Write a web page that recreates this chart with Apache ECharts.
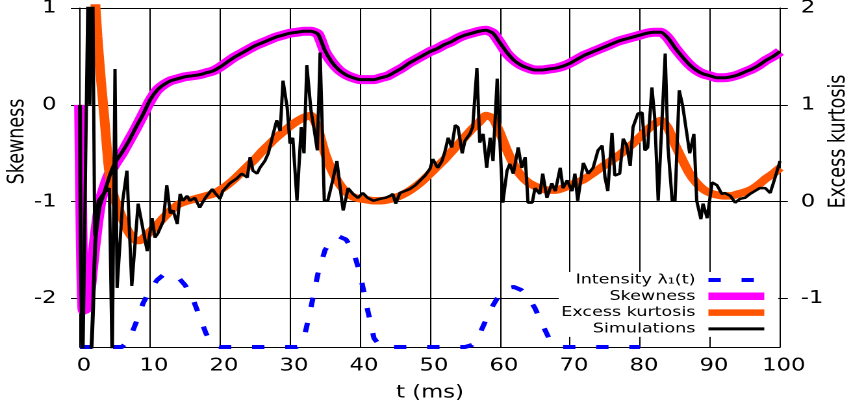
<!DOCTYPE html>
<html>
<head>
<meta charset="utf-8">
<title>Skewness and excess kurtosis</title>
<script src="https://cdn.jsdelivr.net/npm/echarts@6.0.0/dist/echarts.min.js"></script>
<style>
  html, body { margin: 0; padding: 0; background: #fff; overflow: hidden; }
  #frame { width: 851px; height: 408px; overflow: hidden; position: relative; }
  /* the plot is laid out narrower and widened horizontally */
  #chart { width: 655px; height: 408px; transform-origin: 0 0; transform: scaleX(1.299237); }
</style>
</head>
<body>
<div id="frame"><div id="chart"></div></div>
<script>
// ---- axis ticks ----
const xTicks = [0, 10, 20, 30, 40, 50, 60, 70, 80, 90, 100];
const skewTicks = [-2, -1, 0, 1];
const kurtTicks = [-1, 0, 1, 2];

// ---- theoretical skewness (left axis) ----
const skewT = [0, 0.5, 1, 1.5, 2, 2.5, 3,
  4, 5, 6, 7, 8, 9, 10, 11, 12, 13, 14, 15, 16, 17, 18, 19, 20,
  21, 22, 23, 24, 25, 26, 27, 28, 29, 30, 31, 32, 33, 34, 35, 36, 37, 38, 39, 40,
  41, 42, 43, 44, 45, 46, 47, 48, 49, 50, 51, 52, 53, 54, 55, 56, 57, 58, 59, 60,
  61, 62, 63, 64, 65, 66, 67, 68, 69, 70, 71, 72, 73, 74, 75, 76, 77, 78, 79, 80,
  81, 82, 83, 84, 85, 86, 87, 88, 89, 90, 91, 92, 93, 94, 95, 96, 97, 98, 99, 100];
const skewV = [0, -2.12, -2.1, -1.85, -1.5, -1.2, -0.97,
  -0.75, -0.61, -0.5, -0.37, -0.24, -0.1, 0.04, 0.15, 0.21, 0.25, 0.27, 0.29, 0.30, 0.31, 0.33, 0.35, 0.39,
  0.44, 0.49, 0.53, 0.57, 0.61, 0.64, 0.67, 0.70, 0.72, 0.74, 0.75, 0.76, 0.76, 0.73, 0.55, 0.44, 0.36, 0.31, 0.28, 0.26,
  0.26, 0.26, 0.28, 0.30, 0.34, 0.38, 0.43, 0.47, 0.51, 0.55, 0.58, 0.62, 0.65, 0.69, 0.72, 0.74, 0.76, 0.77, 0.74, 0.64,
  0.53, 0.46, 0.41, 0.38, 0.36, 0.36, 0.37, 0.38, 0.40, 0.43, 0.47, 0.51, 0.54, 0.57, 0.60, 0.63, 0.66, 0.68, 0.70, 0.72,
  0.74, 0.75, 0.75, 0.69, 0.59, 0.50, 0.42, 0.36, 0.32, 0.30, 0.28, 0.28, 0.29, 0.31, 0.34, 0.37, 0.41, 0.46, 0.50, 0.55];

// ---- theoretical excess kurtosis (right axis) ----
const kurtT = [1.5, 2, 2.5, 3, 3.5, 4, 4.5, 5, 5.5, 6, 6.5, 7, 7.5, 8, 8.5, 9,
  10, 11, 12, 13, 14, 15, 16, 17, 18, 19, 20,
  21, 22, 23, 24, 25, 26, 27, 28, 29, 30, 31, 32, 33, 34, 35, 36, 37, 38, 39, 40,
  41, 42, 43, 44, 45, 46, 47, 48, 49, 50, 51, 52, 53, 54, 55, 56, 57, 58, 59, 60,
  61, 62, 63, 64, 65, 66, 67, 68, 69, 70, 71, 72, 73, 74, 75, 76, 77, 78, 79, 80,
  81, 82, 83, 84, 85, 86, 87, 88, 89, 90, 91, 92, 93, 94, 95, 96, 97, 98, 99, 100];
const kurtV = [3.5, 2.3, 1.7, 1.25, 0.85, 0.42, 0.15, 0.02, -0.07, -0.16, -0.25, -0.32, -0.37, -0.40, -0.40, -0.38,
  -0.31, -0.24, -0.16, -0.09, -0.03, 0.0, 0.02, 0.04, 0.06, 0.08, 0.12,
  0.17, 0.23, 0.30, 0.37, 0.44, 0.52, 0.59, 0.66, 0.72, 0.78, 0.83, 0.87, 0.89, 0.75, 0.50, 0.32, 0.19, 0.10, 0.05, 0.03,
  0.02, 0.01, 0.01, 0.02, 0.04, 0.07, 0.11, 0.16, 0.22, 0.29, 0.36, 0.43, 0.51, 0.59, 0.67, 0.75, 0.82, 0.89, 0.86, 0.71,
  0.53, 0.38, 0.27, 0.20, 0.16, 0.13, 0.12, 0.12, 0.14, 0.17, 0.20, 0.23, 0.28, 0.33, 0.38, 0.43, 0.48, 0.54, 0.60, 0.67,
  0.74, 0.80, 0.84, 0.76, 0.59, 0.44, 0.30, 0.20, 0.13, 0.09, 0.07, 0.06, 0.06, 0.08, 0.10, 0.13, 0.18, 0.24, 0.29, 0.35];

// ---- intensity lambda_1(t), drawn against the left axis ----
const lambdaT = [0, 6, 7, 8, 9, 10, 11, 12, 13, 14, 15, 16, 17, 18, 19, 20,
  31, 32, 33, 34, 35, 36, 37, 38, 39, 40, 41, 42, 43,
  55, 56, 57, 58, 59, 60, 61, 62, 63, 64, 65, 66, 67, 68, 69, 80];
const lambdaV = [-2.5, -2.5, -2.43, -2.25, -2.05, -1.91, -1.81, -1.75, -1.74, -1.78, -1.86, -1.98, -2.17, -2.36, -2.49, -2.5,
  -2.5, -2.41, -2.09, -1.74, -1.50, -1.39, -1.36, -1.39, -1.50, -1.74, -2.09, -2.41, -2.5,
  -2.5, -2.48, -2.38, -2.22, -2.07, -1.95, -1.89, -1.88, -1.91, -1.98, -2.10, -2.26, -2.41, -2.49, -2.5, -2.5];

// ---- simulated skewness (left axis) ----
const simSkewT = [0, 0.4, 1.5, 2.2, 2.8, 3.5, 4.3, 5,
  6, 7, 8, 9, 10, 11, 12, 13, 14, 15, 16, 17, 18, 19, 20,
  21, 22, 23, 24, 25, 26, 27, 28, 29, 30, 31, 32, 33, 34, 35, 36, 37, 38, 39, 40,
  41, 42, 43, 44, 45, 46, 47, 48, 49, 50, 51, 52, 53, 54, 55, 56, 57, 58, 59, 60,
  61, 62, 63, 64, 65, 66, 67, 68, 69, 70, 71, 72, 73, 74, 75, 76, 77, 78, 79, 80,
  81, 82, 83, 84, 85, 86, 87, 88, 89, 90, 91, 92, 93, 94, 95, 96, 97, 98, 99, 100];
const simSkewV = [0, -2.7, -2.65, -1.4, -1.05, -0.9, -0.72, -0.6,
  -0.49, -0.37, -0.23, -0.1, 0.05, 0.15, 0.21, 0.25, 0.27, 0.29, 0.30, 0.31, 0.33, 0.35, 0.39,
  0.44, 0.49, 0.53, 0.57, 0.61, 0.64, 0.67, 0.70, 0.72, 0.74, 0.75, 0.76, 0.76, 0.73, 0.56, 0.44, 0.36, 0.31, 0.28, 0.26,
  0.26, 0.26, 0.28, 0.30, 0.34, 0.38, 0.43, 0.47, 0.51, 0.55, 0.58, 0.62, 0.65, 0.69, 0.72, 0.74, 0.76, 0.77, 0.74, 0.64,
  0.54, 0.46, 0.41, 0.38, 0.36, 0.36, 0.37, 0.38, 0.40, 0.43, 0.47, 0.51, 0.54, 0.57, 0.60, 0.63, 0.66, 0.68, 0.70, 0.72,
  0.74, 0.75, 0.75, 0.69, 0.59, 0.50, 0.42, 0.36, 0.32, 0.30, 0.28, 0.28, 0.29, 0.31, 0.34, 0.37, 0.41, 0.46, 0.50, 0.55];

// ---- simulated excess kurtosis (right axis) ----
const simKurtT = [0.4, 1.2, 1.4, 1.8, 2.1, 2.6, 3.3, 4.2, 4.6, 5.0, 5.3, 6.1, 6.7, 7.4, 8.3, 9.6,
  10.3, 10.7, 11.1, 11.9, 12.4, 12.9, 13.3, 13.9, 14.3, 14.7, 15.3, 15.7, 16.4, 17.1, 17.9, 18.9, 19.3,
  20.0, 20.4, 21.4, 22.4, 23.1, 23.9, 24.3, 24.7, 25.3, 25.7, 26.4, 26.9, 27.6, 28.1, 28.6, 29.0, 29.6,
  30.0, 30.4, 31.0, 31.6, 32.0, 32.4, 33.0, 33.4, 33.9, 34.3, 34.9, 35.4, 36.1, 36.7, 37.4, 37.6, 38.3,
  39.0, 39.7, 40.4, 41.1, 41.9, 42.9, 43.6, 44.3, 44.7, 45.1, 45.7, 46.4, 47.1, 47.9, 48.6, 49.3,
  50.0, 50.4, 51.1, 51.7, 52.1, 52.6, 53.1, 53.6, 54.0, 54.6, 55.0, 55.7, 56.1, 56.7, 57.1, 57.6, 58.1,
  58.6, 59.0, 59.6, 60.0, 60.4, 61.0, 61.4, 61.9, 62.6, 63.1, 63.6, 64.0, 64.6, 65.0, 65.7, 66.1, 66.7,
  67.4, 67.9, 68.6, 69.0, 69.6, 70.3, 70.7, 71.1, 71.9, 72.6, 73.3, 74.0, 74.6, 75.0, 75.4, 76.0, 76.4,
  77.1, 77.6, 78.1, 78.6, 79.0, 79.7, 80.3, 80.7, 81.1, 81.7, 82.1, 82.6, 83.1, 83.6, 84.0, 84.6, 85.0,
  85.6, 86.1, 87.1, 87.7, 88.1, 88.7, 89.0, 89.6, 90.3, 91.0, 91.7, 92.1, 92.9, 93.6, 94.3, 95.0, 95.7,
  96.4, 97.1, 97.9, 98.6, 99.3, 100];
const simKurtV = [-1.7, 2.5, 1.0, 2.5, -0.35, 0.01, 0.08, 0.14, -1.7, 1.37, -0.89, 0.01, 0.32, -0.87, -0.02, -0.51,
  -0.17, -0.37, -0.33, -0.20, 0.17, -0.12, -0.09, -0.23, 0.08, 0.01, 0.06, 0.01, 0.04, -0.06, 0.04, 0.13, 0.09,
  0.03, 0.11, 0.19, 0.24, 0.29, 0.25, 0.46, 0.32, 0.29, 0.35, 0.42, 0.50, 0.70, 0.84, 0.73, 1.25, 0.97,
  0.60, 0.66, 0.01, 0.77, 0.50, 1.41, 0.94, 0.77, 0.53, 1.54, 0.01, 0.01, 0.22, 0.42, 0.01, -0.09, 0.14,
  0.08, 0.04, 0.09, 0.04, 0.01, 0.03, 0.04, 0.06, 0.08, -0.02, 0.09, 0.11, 0.13, 0.17, 0.22, 0.27,
  0.34, 0.44, 0.35, 0.42, 0.51, 0.66, 0.56, 0.79, 0.77, 0.50, 0.63, 0.70, 0.77, 1.38, 0.61, 0.70, 0.35,
  0.66, 0.42, 1.27, 0.60, -0.01, 0.32, 0.39, 0.29, 0.56, 0.35, 0.46, -0.01, -0.01, 0.14, 0.08, 0.29, 0.04,
  0.19, 0.11, 0.35, 0.14, 0.22, 0.11, 0.29, 0.01, 0.40, 0.29, 0.35, 0.53, 0.58, 0.25, 0.11, 0.71, 0.27,
  0.29, 0.65, 0.58, 0.37, 0.77, 0.91, 0.92, 0.53, 0.56, 1.18, 0.87, 0.01, 0.77, 1.53, 0.56, 0.01, 0.01,
  1.15, 0.99, 0.50, 0.70, 0.01, -0.18, -0.02, -0.17, 0.20, 0.17, 0.08, 0.09, 0.06, -0.01, 0.03, 0.04, 0.08,
  0.11, 0.14, 0.14, 0.09, 0.25, 0.42];

const pairs = (ts, vs) => ts.map((t, i) => [t, vs[i]]);

const FONT = 'DejaVu Sans';
const INK = '#000';
const LAMBDA_NAME = 'Intensity λ₁(t)';

const chart = echarts.init(document.getElementById('chart'), null, { renderer: 'canvas', devicePixelRatio: 2 });

chart.setOption({
  animation: false,
  backgroundColor: '#fff',
  grid: { left: 61.57, right: 54.65, top: 8, bottom: 61, containLabel: false, outerBoundsMode: 'none' },
  xAxis: {
    type: 'value', min: 0, max: 100, interval: 10,
    axisLine: { show: true, onZero: false, lineStyle: { color: INK, width: 1 } },
    axisTick: { show: false },
    axisLabel: { fontFamily: FONT, fontSize: 17.5, color: INK, margin: 10, padding: [0, 0, 0, 6],
      customValues: xTicks },
    splitLine: { show: true, lineStyle: { color: INK, width: 1 } },
    name: 't (ms)', nameLocation: 'middle', nameGap: 37, nameMoveOverlap: false,
    nameTextStyle: { fontFamily: FONT, fontSize: 17.5, color: INK }
  },
  yAxis: [
    {
      type: 'value', min: -2.5, max: 1, position: 'left',
      axisLine: { show: true, onZero: false, lineStyle: { color: INK, width: 1 } },
      axisTick: { show: true, inside: false, length: 7, customValues: skewTicks, lineStyle: { color: INK, width: 1 } },
      axisLabel: { fontFamily: FONT, fontSize: 17.5, color: INK, margin: 18, padding: [5, 0, 0, 0],
        customValues: skewTicks },
      splitLine: { show: true, lineStyle: { color: INK, width: 1 } },
      name: 'Skewness', nameLocation: 'middle', nameRotate: 90, nameGap: 39, nameMoveOverlap: false,
      nameTextStyle: { fontFamily: FONT, fontSize: 17.5, color: INK, padding: [0, 0, 0, 72] }
    },
    {
      type: 'value', min: -1.5, max: 2, position: 'right',
      axisLine: { show: true, onZero: false, lineStyle: { color: INK, width: 1 } },
      axisTick: { show: true, inside: false, length: 6, customValues: kurtTicks, lineStyle: { color: INK, width: 1 } },
      axisLabel: { fontFamily: FONT, fontSize: 17.5, color: INK, margin: 16, padding: [5, 0, 0, 0],
        customValues: kurtTicks },
      splitLine: { show: false },
      name: 'Excess kurtosis', nameLocation: 'middle', nameRotate: 90, nameGap: 36, nameMoveOverlap: false,
      nameTextStyle: { fontFamily: FONT, fontSize: 17.5, color: INK, padding: [0, 0, 0, 72] }
    }
  ],
  legend: {
    orient: 'vertical',
    align: 'right',
    right: 56,
    top: 272,
    padding: [0, 7, 0, 2],
    itemGap: 0.3,
    itemWidth: 43,
    itemHeight: 8,
    backgroundColor: '#fff',
    selectedMode: false,
    textStyle: { fontFamily: FONT, fontSize: 13.5, color: INK, lineHeight: 16, padding: [0, 5, 0, 0] },
    data: [
      { name: LAMBDA_NAME, itemStyle: { opacity: 0 }, lineStyle: { width: 4 } },
      { name: 'Skewness', itemStyle: { opacity: 0 }, lineStyle: { width: 7.5 } },
      { name: 'Excess kurtosis', itemStyle: { opacity: 0 }, lineStyle: { width: 6.5 } },
      { name: 'Simulations', itemStyle: { opacity: 0 }, lineStyle: { width: 3 } }
    ]
  },
  series: [
    {
      name: LAMBDA_NAME, type: 'line', yAxisIndex: 0, symbol: 'none',
      data: pairs(lambdaT, lambdaV),
      lineStyle: { color: '#0000ff', width: 4, type: [9.5, 16] },
      itemStyle: { color: '#0000ff' }
    },
    {
      name: 'Skewness', type: 'line', yAxisIndex: 0, symbol: 'none', smooth: 0.2,
      data: pairs(skewT, skewV),
      lineStyle: { color: '#ff00ff', width: 9 },
      itemStyle: { color: '#ff00ff' }
    },
    {
      name: 'Excess kurtosis', type: 'line', yAxisIndex: 1, symbol: 'none', smooth: 0.2,
      data: pairs(kurtT, kurtV),
      lineStyle: { color: '#ff5500', width: 7.5 },
      itemStyle: { color: '#ff5500' }
    },
    {
      name: 'Simulations', type: 'line', yAxisIndex: 0, symbol: 'none', smooth: 0.2,
      data: pairs(simSkewT, simSkewV),
      lineStyle: { color: INK, width: 3 },
      itemStyle: { color: INK }
    },
    {
      name: 'Simulations', type: 'line', yAxisIndex: 1, symbol: 'none',
      data: pairs(simKurtT, simKurtV),
      lineStyle: { color: INK, width: 2.5 },
      itemStyle: { color: INK }
    }
  ]
});
</script>
</body>
</html>
